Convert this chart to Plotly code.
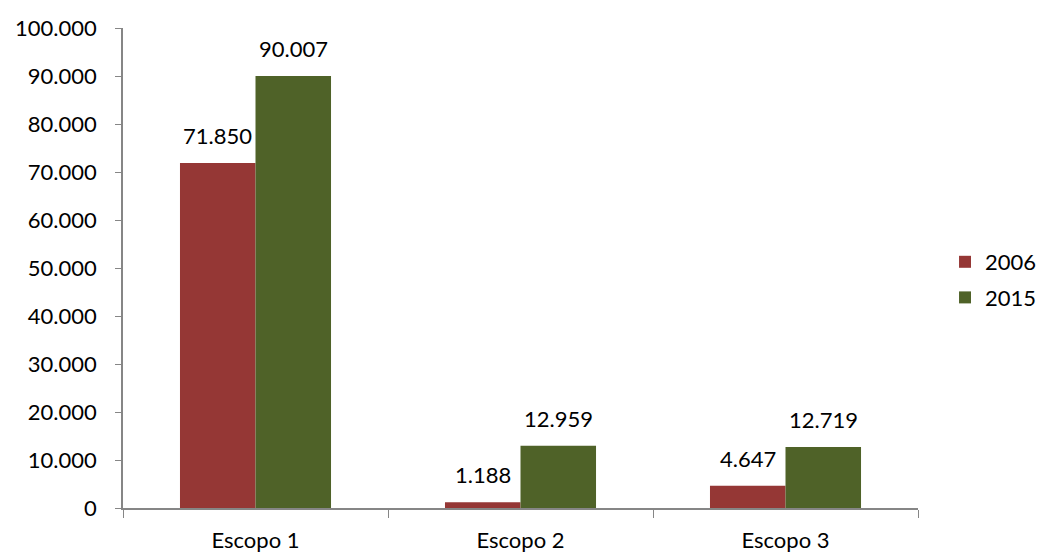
import plotly.graph_objects as go

categories = ["Escopo 1", "Escopo 2", "Escopo 3"]
series_names = ["2006", "2015"]
values_2006 = [71850, 1188, 4647]
values_2015 = [90007, 12959, 12719]
y_ticks = [0, 10000, 20000, 30000, 40000, 50000, 60000, 70000, 80000, 90000, 100000]

colors = ["#953735", "#4F6228"]
font_family = "Lato, 'Open Sans', sans-serif"
fs = 22
bar_w = 0.285
offsets = [-bar_w, 0.0]


def fmt(v):
    return "{:,}".format(v).replace(",", ".")


fig = go.Figure()
annotations = []
for name, vals, col, off in zip(series_names, [values_2006, values_2015], colors, offsets):
    fig.add_trace(go.Bar(
        x=categories, y=vals, name=name, legendgroup=name,
        marker=dict(color=col, line=dict(width=0)),
        width=bar_w, offset=off,
    ))
    for i, v in enumerate(vals):
        annotations.append(dict(
            x=i + off + bar_w / 2, y=v, xref="x", yref="y",
            text=fmt(v), showarrow=False, yanchor="bottom", xanchor="center",
            yshift=12, font=dict(size=fs, color="#000000", family=font_family),
        ))

fig.update_layout(
    width=1038, height=554,
    margin=dict(l=123, r=120, t=28, b=46, autoexpand=False),
    paper_bgcolor="white", plot_bgcolor="white",
    separators=",.",
    barmode="group",
    font=dict(family=font_family, size=fs, color="#000000"),
    showlegend=True,
    legend=dict(x=1.034, y=0.475, xanchor="left", yanchor="middle",
                font=dict(size=fs), itemwidth=30, tracegroupgap=4,
                bgcolor="rgba(0,0,0,0)"),
    annotations=annotations,
)
fig.update_yaxes(
    range=[0, 100000], tickvals=y_ticks, tickformat=",d",
    showgrid=False, showline=True, linecolor="#868686", linewidth=1.5,
    ticks="outside", ticklen=6, tickcolor="#868686", zeroline=False,
    tickfont=dict(size=fs), ticklabelstandoff=14, automargin=False,
)
fig.update_xaxes(
    range=[-0.5, 2.5],
    showgrid=False, showline=True, linecolor="#868686", linewidth=1.5,
    ticks="outside", ticklen=8, tickcolor="#868686", tickson="boundaries",
    tickfont=dict(size=fs), ticklabelstandoff=12, automargin=False,
)

fig.write_html("out.html", config={"displayModeBar": False},
               post_script="document.body.style.margin='0px';")
